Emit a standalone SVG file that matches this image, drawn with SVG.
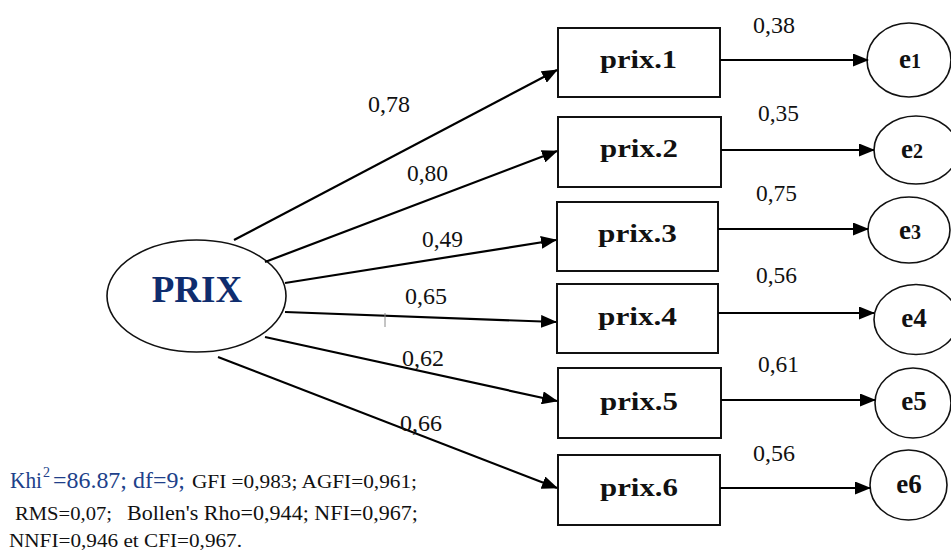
<svg xmlns="http://www.w3.org/2000/svg" width="951" height="552" viewBox="0 0 951 552">
  <style>
    .box { fill: #ffffff; stroke: #111111; stroke-width: 2; }
    .ell { fill: #ffffff; stroke: #111111; stroke-width: 1.6; }
    .link { fill: none; stroke: #000000; stroke-width: 2.2; marker-end: url(#arrow); }
    .coef { font-family: "Liberation Serif", "Times New Roman", serif; font-size: 23px; fill: #111111; }
    .var { font-family: "Liberation Serif", "Times New Roman", serif; font-size: 25px; font-weight: bold; fill: #111111; }
    .err { font-family: "Liberation Serif", "Times New Roman", serif; font-size: 27px; font-weight: bold; fill: #111111; text-anchor: middle; }
    .latent { font-family: "Liberation Serif", "Times New Roman", serif; font-size: 37px; font-weight: bold; fill: #0f2d6e; text-anchor: middle; }
    .fit { font-family: "Liberation Serif", "Times New Roman", serif; fill: #111111; }
    .fitblue { font-family: "Liberation Serif", "Times New Roman", serif; fill: #203f8a; }
  </style>
  <defs>
    <marker id="arrow" markerUnits="userSpaceOnUse" markerWidth="16" markerHeight="13" refX="15" refY="6.5" orient="auto">
      <path d="M0,0 L16,6.5 L0,13 Z" fill="#000000"/>
    </marker>
  </defs>

  <!-- latent factor -->
  <g id="PRIX">
    <ellipse class="ell" cx="196.5" cy="296" rx="89.5" ry="56"/>
    <text class="latent" x="197" y="302">PRIX</text>
  </g>

  <!-- observed indicators -->
  <g id="prix1">
    <rect class="box" x="558" y="28" width="162" height="69"/>
    <text class="var" x="600" y="68" textLength="77" lengthAdjust="spacingAndGlyphs">prix.1</text>
  </g>
  <g id="prix2">
    <rect class="box" x="558" y="117" width="163" height="70"/>
    <text class="var" x="600" y="157" textLength="78" lengthAdjust="spacingAndGlyphs">prix.2</text>
  </g>
  <g id="prix3">
    <rect class="box" x="557" y="202" width="161" height="69"/>
    <text class="var" x="598" y="242" textLength="79" lengthAdjust="spacingAndGlyphs">prix.3</text>
  </g>
  <g id="prix4">
    <rect class="box" x="557" y="284" width="161" height="69"/>
    <text class="var" x="598" y="325" textLength="79" lengthAdjust="spacingAndGlyphs">prix.4</text>
  </g>
  <g id="prix5">
    <rect class="box" x="558" y="368" width="163" height="70"/>
    <text class="var" x="600" y="410" textLength="78" lengthAdjust="spacingAndGlyphs">prix.5</text>
  </g>
  <g id="prix6">
    <rect class="box" x="558" y="455" width="162" height="70"/>
    <text class="var" x="600" y="496" textLength="78" lengthAdjust="spacingAndGlyphs">prix.6</text>
  </g>

  <!-- error terms -->
  <g id="e1">
    <ellipse class="ell" cx="909" cy="60" rx="42" ry="37"/>
    <text class="err" x="910" y="68">e<tspan font-size="20">1</tspan></text>
  </g>
  <g id="e2">
    <ellipse class="ell" cx="916" cy="150" rx="42" ry="34"/>
    <text class="err" x="912" y="158">e<tspan font-size="20">2</tspan></text>
  </g>
  <g id="e3">
    <ellipse class="ell" cx="909" cy="230" rx="41" ry="33"/>
    <text class="err" x="910" y="239">e<tspan font-size="20">3</tspan></text>
  </g>
  <g id="e4">
    <ellipse class="ell" cx="916" cy="319.5" rx="42" ry="35"/>
    <text class="err" x="914" y="327">e4</text>
  </g>
  <g id="e5">
    <ellipse class="ell" cx="913" cy="403" rx="38" ry="35"/>
    <text class="err" x="914" y="410">e5</text>
  </g>
  <g id="e6">
    <ellipse class="ell" cx="908.5" cy="485" rx="38.5" ry="35"/>
    <text class="err" x="909" y="493">e6</text>
  </g>

  <!-- paths with their coefficients -->
  <g id="connectors">
    <path class="link" d="M234,240 L557,70"/>
    <path class="link" d="M265,262 L557,151"/>
    <path class="link" d="M285,283 L556,240"/>
    <path class="link" d="M285,312 L556,322"/>
    <path class="link" d="M265,337 L557,401"/>
    <path class="link" d="M218,357 L557,488"/>

    <path class="link" d="M720,60 L868,60"/>
    <path class="link" d="M721,150 L874,150"/>
    <path class="link" d="M718,229 L868,229"/>
    <path class="link" d="M718,313 L874,313"/>
    <path class="link" d="M721,400 L875,400"/>
    <path class="link" d="M720,488 L870,488"/>

    <line x1="385" y1="313" x2="385" y2="327" stroke="#8a8a8a" stroke-width="1"/>

    <text class="coef" x="368" y="112" textLength="42" lengthAdjust="spacingAndGlyphs">0,78</text>
    <text class="coef" x="407" y="181" textLength="41" lengthAdjust="spacingAndGlyphs">0,80</text>
    <text class="coef" x="422" y="247" textLength="41" lengthAdjust="spacingAndGlyphs">0,49</text>
    <text class="coef" x="405" y="304" textLength="42" lengthAdjust="spacingAndGlyphs">0,65</text>
    <text class="coef" x="402" y="366" textLength="42" lengthAdjust="spacingAndGlyphs">0,62</text>
    <text class="coef" x="400" y="431" textLength="42" lengthAdjust="spacingAndGlyphs">0,66</text>

    <text class="coef" x="753" y="33" textLength="42" lengthAdjust="spacingAndGlyphs">0,38</text>
    <text class="coef" x="758" y="121" textLength="41" lengthAdjust="spacingAndGlyphs">0,35</text>
    <text class="coef" x="756" y="201" textLength="41" lengthAdjust="spacingAndGlyphs">0,75</text>
    <text class="coef" x="756" y="283" textLength="41" lengthAdjust="spacingAndGlyphs">0,56</text>
    <text class="coef" x="758" y="372" textLength="41" lengthAdjust="spacingAndGlyphs">0,61</text>
    <text class="coef" x="753" y="461" textLength="42" lengthAdjust="spacingAndGlyphs">0,56</text>
  </g>

  <!-- fit indices -->
  <g id="fit-indices">
    <text class="fitblue" x="10" y="488" font-size="23" textLength="32" lengthAdjust="spacingAndGlyphs">Khi</text>
    <text class="fitblue" x="43" y="477" font-size="14">2</text>
    <text class="fitblue" x="53" y="488" font-size="23" textLength="132" lengthAdjust="spacingAndGlyphs">=86.87; df=9;</text>
    <text class="fit" x="192" y="488" font-size="18" textLength="225" lengthAdjust="spacingAndGlyphs">GFI =0,983; AGFI=0,961;</text>
    <text class="fit" x="15" y="520" font-size="18" textLength="97" lengthAdjust="spacingAndGlyphs">RMS=0,07;</text>
    <text class="fit" x="127" y="520" font-size="21" textLength="291" lengthAdjust="spacingAndGlyphs">Bollen's Rho=0,944; NFI=0,967;</text>
    <text class="fit" x="9" y="547" font-size="18" textLength="233" lengthAdjust="spacingAndGlyphs">NNFI=0,946 et CFI=0,967.</text>
  </g>
</svg>
